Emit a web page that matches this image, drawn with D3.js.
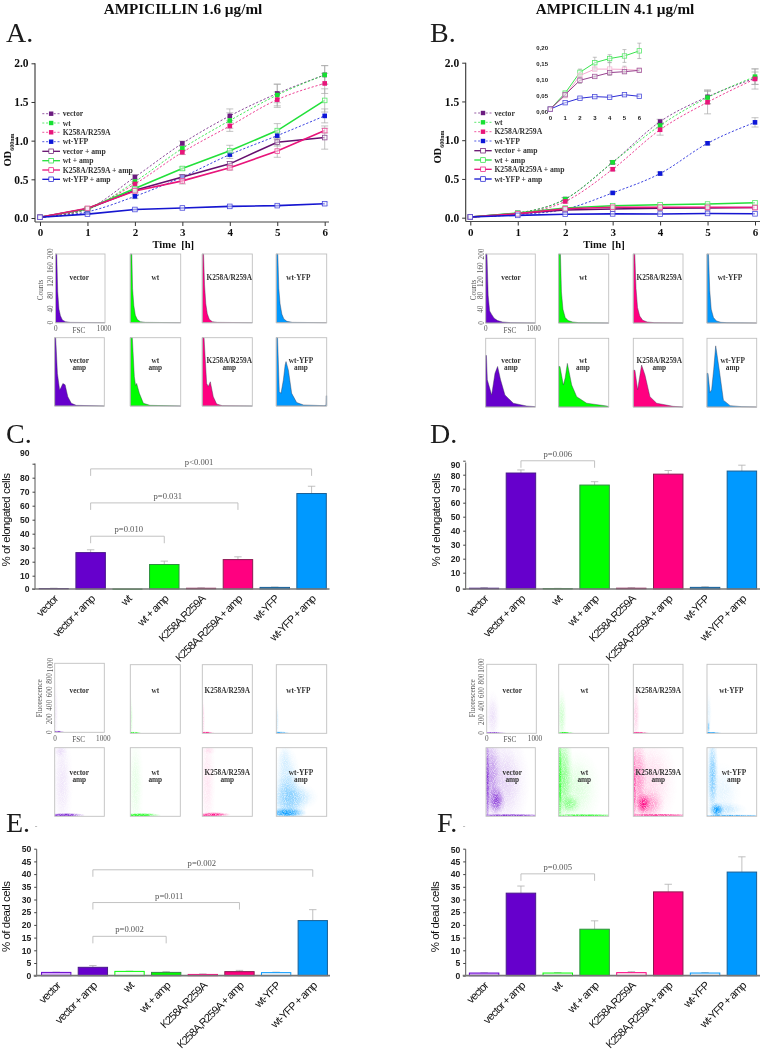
<!DOCTYPE html>
<html><head><meta charset="utf-8">
<script src="https://cdn.jsdelivr.net/npm/d3@7"></script>
<style>html,body{margin:0;padding:0;background:#fff}svg{display:block}</style>
</head><body><div id="c"></div>
<script>
// ---------- DATA ----------
const hours=[0,1,2,3,4,5,6];
const seriesNames=["vector","wt","K258A/R259A","wt-YFP","vector + amp","wt + amp","K258A/R259A + amp","wt-YFP + amp"];
// Panel A (OD600, ampicillin 1.6)
const aVector=[.01,.12,.53,.965,1.32,1.61,1.85];
const aWt=[.01,.11,.47,.90,1.26,1.59,1.85];
const aK=[.01,.12,.44,.85,1.19,1.53,1.74];
const aYfp=[.01,.08,.28,.53,.82,1.065,1.32];
const aVectorAmp=[.01,.12,.36,.53,.70,.98,1.04];
const aWtAmp=[.01,.12,.38,.64,.87,1.13,1.52];
const aKAmp=[.01,.125,.35,.48,.65,.865,1.13];
const aYfpAmp=[.01,.05,.11,.13,.15,.16,.185];
const aVectorErr=[0,.01,.03,.03,.09,.12,.12];
const aWtErr=[0,.01,.03,.03,.1,.14,.12];
const aKErr=[0,.01,.03,.03,.07,.1,.13];
const aYfpErr=[0,.01,.03,.03,.05,.05,.09];
const aVectorAmpErr=[0,.01,.02,.03,.03,.05,.15];
const aWtAmpErr=[0,.01,.02,.02,.07,.09,.15];
const aKAmpErr=[0,.01,.02,.04,.03,.08,.03];
const aYfpAmpErr=[0,.01,.01,.01,.01,.01,.02];
// Panel B (OD600, ampicillin 4.1)
const bVector=[.01,.06,.24,.715,1.24,1.56,1.80];
const bWt=[.01,.06,.24,.715,1.19,1.55,1.82];
const bK=[.01,.05,.21,.625,1.135,1.49,1.79];
const bYfp=[.01,.04,.11,.32,.57,.96,1.23];
const bVectorAmp=[.01,.055,.10,.112,.124,.127,.131];
const bWtAmp=[.01,.06,.125,.155,.168,.176,.192];
const bKAmp=[.01,.052,.115,.135,.135,.134,.131];
const bYfpAmp=[.01,.03,.044,.049,.047,.055,.05];
const bVectorErr=[0,.01,.02,.02,.03,.09,.08];
const bWtErr=[0,.01,.02,.02,.03,.08,.1];
const bKErr=[0,.01,.02,.02,.07,.15,.13];
const bYfpErr=[0,.01,.01,.01,.02,.02,.06];
const bVectorAmpErr=[0,.004,.01,.004,.005,.005,.004];
const bWtAmpErr=[0,.004,.01,.017,.012,.02,.024];
const bKAmpErr=[0,.004,.004,.004,.02,.01,.004];
const bYfpAmpErr=[0,.002,.002,.002,.002,.002,.002];
const odTicks=[0,.5,1,1.5,2];
const insetTicks=[0,.05,.10,.15,.20];
// Bars
const barCats=["vector","vector + amp","wt","wt + amp","K258A,R259A","K258A,R259A + amp","wt-YFP","wt-YFP + amp"];
const cVals=[.5,26.5,.1,18,.7,21.5,1.2,68.7];
const cErrs=[.1,2,0,2.4,.2,2,.3,5.2];
const dVals=[.6,81.2,.3,72.6,.6,80.4,1.0,82.6];
const dErrs=[.3,2.2,.1,2.4,.2,2.6,.4,4.2];
const eVals=[1.3,3.3,1.7,1.3,.5,1.6,1.2,21.7];
const eErrs=[.1,.7,.1,.3,.2,.5,.2,4.3];
const fVals=[1.05,32.5,1.05,18.3,1.2,33,1.05,40.8];
const fErrs=[.1,2.8,.2,3.3,.4,3,.2,6];
const elongTicks=[0,10,20,30,40,50,60,70,80,90];
const deadTicks=[0,5,10,15,20,25,30,35,40,45,50];
// FSC histograms: [FSC, counts]
const haVector=[[0,200],[25,200],[45,90],[70,40],[100,20],[140,8],[200,3],[300,1],[1000,0]];
const haWt=[[0,200],[30,200],[45,100],[70,50],[100,22],[140,9],[200,3],[300,1],[1000,0]];
const haK=[[0,200],[25,200],[45,110],[70,55],[100,26],[140,10],[200,3],[300,1],[1000,0]];
const haYfp=[[0,200],[30,200],[50,100],[75,55],[110,25],[150,11],[210,4],[320,1],[1000,0]];
const haVectorAmp=[[0,200],[20,200],[55,95],[100,47],[130,55],[165,66],[210,62],[265,27],[335,8],[435,2],[1000,0]];
const haWtAmp=[[0,200],[40,200],[80,86],[105,60],[126,66],[180,37],[260,8],[390,2],[1000,0]];
const haKAmp=[[0,200],[35,200],[87,66],[120,57],[160,71],[220,27],[287,6],[400,1],[1000,0]];
const haYfpAmp=[[0,200],[25,200],[60,42],[93,37],[140,76],[175,120],[193,130],[240,105],[305,37],[405,10],[540,3],[950,1],[985,2],[990,30],[1000,30]];
const hbVector=[[0,200],[25,200],[50,80],[80,35],[120,25],[170,14],[240,7],[340,3],[500,1],[1000,0]];
const hbWt=[[0,200],[35,200],[55,90],[85,40],[130,16],[190,7],[280,3],[400,1],[1000,0]];
const hbK=[[0,200],[30,200],[55,100],[85,45],[130,20],[190,8],[280,3],[420,1],[1000,0]];
const hbYfp=[[0,200],[30,200],[55,95],[85,40],[130,16],[190,6],[280,2],[400,1],[1000,0]];
const hbVectorAmp=[[0,150],[15,150],[33,79],[120,35],[187,98],[240,118],[300,79],[388,35],[557,11],[825,3],[1000,1]];
const hbWtAmp=[[0,118],[25,118],[93,64],[130,85],[173,127],[260,64],[360,30],[560,11],[960,3],[1000,1]];
const hbKAmp=[[0,107],[33,107],[87,50],[125,85],[167,122],[235,93],[335,30],[470,11],[800,2],[1000,0]];
const hbYfpAmp=[[0,98],[20,98],[60,42],[93,50],[135,110],[175,178],[248,107],[330,20],[465,4],[700,1],[1000,0]];
// Scatter density blobs: [FSC, fluorescence, spread FSC, spread fluor, density]
const saVector=[[60,8,80,12,1],[20,300,30,300,.07]];
const saWt=[[70,8,90,12,1],[20,200,20,200,.16]];
const saK=[[70,10,100,12,1],[20,200,20,200,.16]];
const saYfp=[[70,10,110,12,1],[20,180,20,160,.16]];
const saVectorAmp=[[230,18,230,20,1],[60,10,70,14,.8],[150,500,130,480,.1],[110,950,90,60,.1]];
const saWtAmp=[[220,18,240,20,1],[60,12,70,14,.7],[100,450,100,450,.1]];
const saKAmp=[[230,25,200,22,1],[60,12,60,14,.7],[100,500,100,480,.1],[130,960,90,40,.1]];
const saYfpAmp=[[200,50,240,50,1],[250,250,230,210,.42],[210,520,160,300,.22],[500,280,200,110,.16],[160,850,90,130,.1]];
const sbVector=[[130,8,160,9,.9],[120,250,90,220,.12]];
const sbWt=[[90,10,130,10,1],[60,250,60,240,.2]];
const sbK=[[100,10,130,10,.95],[50,270,50,250,.18]];
const sbYfp=[[70,10,130,9,1],[30,90,20,70,.5],[30,300,40,200,.1]];
const sbVectorAmp=[[210,230,110,130,.7],[500,15,540,12,1],[110,600,120,420,.34],[30,500,30,520,.7],[350,500,320,450,.18]];
const sbWtAmp=[[230,180,130,90,.4],[500,15,540,12,1],[90,600,120,450,.42],[25,500,25,520,.8],[350,400,300,340,.14]];
const sbKAmp=[[200,180,90,90,1],[300,180,200,140,.4],[500,18,540,12,1],[100,560,110,420,.38],[25,450,25,430,.55],[350,500,320,420,.15]];
const sbYfpAmp=[[200,90,90,70,1],[110,600,70,380,.5],[350,100,270,70,.22],[500,12,540,10,.8],[300,350,230,260,.1]];

// ---------- STYLE ----------
const W=760,H=1049;
const PURPLE="#6600cc",GREEN="#00ff00",PINK="#ff0080",BLUE="#0099ff";
const barStroke={[PURPLE]:"#4a1a8a",[GREEN]:"#2f8f3f",[PINK]:"#8c1850",[BLUE]:"#1a5f94"};
const lineColors=["#6c1a80","#18e030","#e8127a","#0a14d8","#66106e","#22e03a","#e8127a","#1414d0"];
const SERIF="'Liberation Serif','Times New Roman',serif",SANS="'Liberation Sans',Arial,sans-serif";

const svg=d3.select("#c").append("svg").attr("width",W).attr("height",H).attr("viewBox",`0 0 ${W} ${H}`);
const defs=svg.append("defs");
const stip=defs.append("filter").attr("id","stipple").attr("x",0).attr("y",0).attr("width",1).attr("height",1).attr("color-interpolation-filters","sRGB");
stip.append("feTurbulence").attr("type","fractalNoise").attr("baseFrequency",1.1).attr("numOctaves",1).attr("seed",3).attr("result","n");
stip.append("feColorMatrix").attr("in","n").attr("type","matrix").attr("values","0 0 0 0 0 0 0 0 0 0 0 0 0 0 0 1.8 0 0 0 -0.05").attr("result","m");
stip.append("feComposite").attr("in","SourceGraphic").attr("in2","m").attr("operator","in");
defs.append("filter").attr("id","softer").attr("x","-50%").attr("y","-50%").attr("width","200%").attr("height","200%").append("feGaussianBlur").attr("stdDeviation",.35);
const blobGrad={};
[PURPLE,GREEN,PINK,BLUE].forEach((c,i)=>{
  blobGrad[c]="bg"+i;
  const g=defs.append("radialGradient").attr("id","bg"+i);
  [[0,1],[.35,.72],[.7,.22],[1,0]].forEach(s=>g.append("stop").attr("offset",s[0]).attr("stop-color",c).attr("stop-opacity",s[1]));
});
const root=svg.append("g").attr("filter","url(#softer)");
root.append("rect").attr("width",W).attr("height",H).attr("fill","#fff");

function txt(g,x,y,s,o={}){
  const t=g.append("text").attr("x",x).attr("y",y).text(s)
   .attr("font-family",o.font||SERIF).attr("font-size",o.size||8).attr("fill",o.fill||"#222")
   .attr("text-anchor",o.anchor||"middle").attr("dominant-baseline",o.base||"auto");
  if(o.bold)t.attr("font-weight","bold");
  if(o.ls!=null)t.attr("letter-spacing",o.ls);
  if(o.rot!=null)t.attr("transform",`rotate(${o.rot} ${x} ${y})`);
  return t;
}

// Titles and panel letters
txt(root,183,13.6,"AMPICILLIN 1.6 µg/ml",{size:15.2,bold:true,fill:"#111"});
txt(root,615,13.6,"AMPICILLIN 4.1 µg/ml",{size:15.2,bold:true,fill:"#111"});
[["A.",6,41.5],["B.",430,41.5],["C.",6,442.5],["D.",430,442.5],["E.",6,831.5],["F.",437,831.5]].forEach(d=>
  txt(root,d[1],d[2],d[0],{size:28,anchor:"start",fill:"#1a1a1a"}));
[[36,829],[464,829]].forEach(d=>txt(root,d[0],d[1],"-",{size:8,fill:"#999"}));

// ---------- LINE PANELS ----------
function linePanel(p){
  const x=d3.scaleLinear().domain([0,6]).range(p.xr), y=d3.scaleLinear().domain([0,2]).range(p.yr);
  const g=root.append("g");
  const ya=g.append("g").attr("transform",`translate(${p.ax},0)`).call(d3.axisLeft(y).tickValues(odTicks).tickFormat(d3.format(".1f")).tickSize(3.5));
  const xa=g.append("g").attr("transform",`translate(0,${p.ay})`).call(d3.axisBottom(x).tickValues(hours).tickFormat(d3.format("d")).tickSize(4));
  [ya,xa].forEach(a=>{a.selectAll("text").attr("font-family",SERIF).attr("font-weight","bold").attr("font-size",11.5).attr("fill","#111");
    a.selectAll("line").attr("stroke","#333").attr("stroke-width",1);a.select(".domain").remove();});
  xa.selectAll("text").attr("font-size",11).attr("dy","0.68em");
  g.append("line").attr("x1",p.ax).attr("x2",p.ax).attr("y1",p.yr[1]).attr("y2",p.ay).attr("stroke","#333").attr("stroke-width",1.1);
  g.append("line").attr("x1",p.ax).attr("x2",p.xEnd).attr("y1",p.ay).attr("y2",p.ay).attr("stroke","#444").attr("stroke-width",1.2);
  txt(g,p.timeX,247.5,"Time\u00a0\u00a0[h]",{size:10.6,bold:true,fill:"#111"});
  const od=txt(g,p.odX,p.odY,"OD",{size:10.5,bold:true,rot:-90,fill:"#111"});
  od.append("tspan").attr("dy",3).attr("font-size",6).text("600nm");
  drawSeries(g,x,y,p.vals,p.errs,{dashW:.8,solidW:1.6,size:4.6,hollow:4.6,cap:3.5});
  seriesNames.forEach((n,i)=>{
    const ly=p.legY[i],c=lineColors[i],amp=i>=4;
    g.append("line").attr("x1",p.legX[0]).attr("x2",p.legX[1]).attr("y1",ly).attr("y2",ly).attr("stroke",c)
      .attr("stroke-width",amp?1.3:.7).attr("stroke-dasharray",amp?null:"2,1.8");
    const m=(p.legX[0]+p.legX[1])/2;
    if(amp)g.append("rect").attr("x",m-2.3).attr("y",ly-2.3).attr("width",4.6).attr("height",4.6).attr("fill","#fff").attr("stroke",c).attr("stroke-width",.7);
    else g.append("rect").attr("x",m-2.2).attr("y",ly-2.2).attr("width",4.4).attr("height",4.4).attr("fill",c);
    txt(g,p.legX[1]+2.7,ly+2.5,n,{size:7.7,bold:true,anchor:"start",fill:"#333"});
  });
}
function drawSeries(g,x,y,vals,errs,o){
  const pts=(v)=>hours.map((h,i)=>[h,v[i]]);
  const lineD=d3.line().x(d=>x(d[0])).y(d=>y(d[1]));
  const dashD=d3.line().x(d=>x(d[0])).y(d=>y(d[1])).curve(d3.curveMonotoneX);
  const colorOf=si=>(o.colors&&o.colors[si])||lineColors[si];
  vals.forEach((v,si)=>{
    if(!v)return;
    const eg=g.append("g").attr("stroke",si===7?"#b8c4f0":"#a8a8a8").attr("stroke-width",.7);
    hours.forEach((h,i)=>{const e=errs[si][i];if(e<=0)return;
      const px=x(h);[-1,1].forEach(s=>eg.append("line").attr("x1",px-o.cap).attr("x2",px+o.cap).attr("y1",y(v[i]+s*e)).attr("y2",y(v[i]+s*e)));
      eg.append("line").attr("x1",px).attr("x2",px).attr("y1",y(v[i]-e)).attr("y2",y(v[i]+e));});
  });
  vals.forEach((v,si)=>{
    if(!v)return;
    const amp=si>=4;
    g.append("path").attr("d",(amp?lineD:dashD)(pts(v))).attr("fill","none").attr("stroke",colorOf(si))
      .attr("stroke-width",amp?o.solidW:o.dashW).attr("stroke-dasharray",amp?null:"2.2,1.8");
  });
  vals.forEach((v,si)=>{
    if(!v)return;
    const c=colorOf(si),amp=si>=4,sz=amp?o.hollow:o.size;
    g.selectAll(null).data(pts(v)).enter().append("rect")
      .attr("x",d=>x(d[0])-sz/2).attr("y",d=>y(d[1])-sz/2).attr("width",sz).attr("height",sz)
      .attr("fill",amp?"rgba(255,255,255,.55)":c).attr("stroke",amp?d3.interpolateRgb(c,"#fff")(.25):"none").attr("stroke-width",amp?.8:0);
  });
}
linePanel({xr:[40,324.7],yr:[218,63.3],ax:35,ay:222,xEnd:329,timeX:173.3,odX:11,odY:150,
  vals:[aVector,aWt,aK,aYfp,aVectorAmp,aWtAmp,aKAmp,aYfpAmp],
  errs:[aVectorErr,aWtErr,aKErr,aYfpErr,aVectorAmpErr,aWtAmpErr,aKAmpErr,aYfpAmpErr],
  legX:[42.3,60],legY:[113.7,123,132.3,141.7,151.3,160.7,170,179.3]});
linePanel({xr:[470.3,755],yr:[217.7,62.7],ax:465.7,ay:221.5,xEnd:760,timeX:604,odX:440.5,odY:147,
  vals:[bVector,bWt,bK,bYfp,bVectorAmp,bWtAmp,bKAmp,bYfpAmp],
  errs:[bVectorErr,bWtErr,bKErr,bYfpErr,bVectorAmpErr.map(()=>0),bWtAmpErr.map(()=>0),bKAmpErr.map(()=>0),bYfpAmpErr.map(()=>0)],
  legX:[474.3,491.7],legY:[113,122.3,131.7,141,150.7,160,169.3,179]});
// inset
(function(){
  const g=root.append("g");
  const x=d3.scaleLinear().domain([0,6]).range([550.3,639.3]), y=d3.scaleLinear().domain([0,.2]).range([112.3,48.3]);
  insetTicks.forEach(t=>txt(g,548,y(t)+2,d3.format(".2f")(t).replace(".",","),{size:6,bold:true,anchor:"end",font:SANS,fill:"#222"}));
  hours.forEach(h=>txt(g,x(h),119.5,h,{size:6,bold:true,font:SANS,fill:"#222"}));
  drawSeries(g,x,y,[null,null,null,null,null,bWtAmp,bKAmp,bYfpAmp],
    [0,0,0,0,0,bWtAmpErr,bKAmpErr,bYfpAmpErr],{solidW:.9,hollow:4.4,cap:2,colors:{6:"#f3a0c8"}});
  drawSeries(g,x,y,[null,null,null,null,bVectorAmp,null,null,null],
    [0,0,0,0,bVectorAmpErr,0,0,0],{solidW:.9,hollow:4.4,cap:2,colors:{4:"#8a2a80"}});
})();

// ---------- HISTOGRAMS ----------
const hx=d3.scaleLinear().domain([0,1000]), hy=d3.scaleLinear().domain([0,200]);
function hist(box,data,color,lab,lx,withAmp){
  const x=hx.copy().range([box[0],box[1]]), y=hy.copy().range([box[3],box[2]]);
  const g=root.append("g");
  const area=d3.area().x(d=>x(d[0])).y0(box[3]).y1(d=>y(d[1]));
  g.append("path").attr("d",area(data)).attr("fill",color).attr("stroke","#33334a").attr("stroke-width",.4);
  g.append("rect").attr("x",box[0]).attr("y",box[2]).attr("width",box[1]-box[0]).attr("height",box[3]-box[2]).attr("fill","none").attr("stroke","#c0c0c0").attr("stroke-width",.9);
  labels(g,lab,lx,withAmp?360:277.7,withAmp);
}
function labels(g,lab,lx,ly,withAmp){
  txt(g,lx,ly+2.5,lab,{size:7.3,bold:true,fill:"#333"});
  if(withAmp)txt(g,lx,ly+9.8,"amp",{size:7.3,bold:true,fill:"#333"});
}
const aCols=[[55.5,105],[130.3,180.7],[202.3,252.3],[276.3,326.7]], aCols2=[[54.7,104.3],[130.3,180.7],[202.3,252.3],[276.3,326.7]];
const bCols=[[485.7,535.3],[558.7,608.7],[633.3,683],[707,756.7]];
const labs=["vector","wt","K258A/R259A","wt-YFP"], cols=[PURPLE,GREEN,PINK,BLUE];
const hA1=[haVector,haWt,haK,haYfp],hA2=[haVectorAmp,haWtAmp,haKAmp,haYfpAmp],hB1=[hbVector,hbWt,hbK,hbYfp],hB2=[hbVectorAmp,hbWtAmp,hbKAmp,hbYfpAmp];
const hLxA1=[79.3,155.3,229.3,298.3],hLxA2=[79.3,155.3,229.3,301],hLxB1=[511,583,659.3,730],hLxB2=[511,583,659.3,732.7];
labs.forEach((l,i)=>{
  hist([aCols[i][0],aCols[i][1],254,322.7],hA1[i],cols[i],l,hLxA1[i],false);
  hist([aCols2[i][0],aCols2[i][1],337.7,406],hA2[i],cols[i],l,hLxA2[i],true);
  hist([bCols[i][0],bCols[i][1],254,323],hB1[i],cols[i],l,hLxB1[i],false);
  hist([bCols[i][0],bCols[i][1],338.3,407],hB2[i],cols[i],l,hLxB2[i],true);
});
function flowAxes(o){
  const g=root.append("g"),f={size:7.2,fill:"#555"};
  const y=d3.scaleLinear().domain(o.dom).range(o.yr);
  o.ticks.forEach(t=>txt(g,o.tx,y(t),t,{...f,rot:-90}));
  txt(g,o.nameX,o.nameY,o.name,{...f,rot:-90});
  txt(g,o.z,o.by,"0",f);txt(g,o.k,o.by,"1000",f);txt(g,o.fscX,o.by+1.7,"FSC",f);
}
flowAxes({dom:[0,200],ticks:[0,40,80,120,160,200],yr:[322.7,253.8],tx:53.5,name:"Counts",nameX:42.5,nameY:290,z:55.7,k:104,fscX:79,by:331});
flowAxes({dom:[0,200],ticks:[0,40,80,120,160,200],yr:[323,254],tx:483.5,name:"Counts",nameX:475.5,nameY:290,z:485.7,k:533.7,fscX:510,by:331});
flowAxes({dom:[0,1000],ticks:[0,200,400,600,800,1000],yr:[732.3,665],tx:52.5,name:"Fluorescence",nameX:42.5,nameY:698.3,z:55,k:103.3,fscX:78.7,by:740.5});
flowAxes({dom:[0,1000],ticks:[0,200,400,600,800,1000],yr:[733,665.5],tx:484,name:"Fluorescence",nameX:475.5,nameY:698.3,z:486.7,k:535,fscX:510,by:740.5});

// ---------- SCATTERS ----------
let clipN=0;
function scatter(box,blobs,color,lab,lx,withAmp){
  const x=hx.copy().range([box[0],box[1]]), y=d3.scaleLinear().domain([0,1000]).range([box[3],box[2]]);
  const id="cl"+(clipN++);
  defs.append("clipPath").attr("id",id).append("rect").attr("x",box[0]).attr("y",box[2]).attr("width",box[1]-box[0]).attr("height",box[3]-box[2]);
  const g=root.append("g");
  const c=g.append("g").attr("clip-path",`url(#${id})`).append("g").attr("filter","url(#stipple)");
  c.selectAll("ellipse").data(blobs).enter().append("ellipse")
   .attr("cx",d=>x(d[0])).attr("cy",d=>y(d[1]))
   .attr("rx",d=>1.7*Math.abs(x(d[2])-x(0))).attr("ry",d=>1.7*Math.abs(y(d[3])-y(0)))
   .attr("fill",`url(#${blobGrad[color]})`).attr("opacity",d=>d[4]);
  g.append("rect").attr("x",box[0]).attr("y",box[2]).attr("width",box[1]-box[0]).attr("height",box[3]-box[2]).attr("fill","none").attr("stroke","#c0c0c0").attr("stroke-width",.9);
  labels(g,lab,lx,withAmp?772.3:690,withAmp);
}
const sA1=[saVector,saWt,saK,saYfp],sA2=[saVectorAmp,saWtAmp,saKAmp,saYfpAmp],sB1=[sbVector,sbWt,sbK,sbYfp],sB2=[sbVectorAmp,sbWtAmp,sbKAmp,sbYfpAmp];
const sLxA1=[79.3,155.3,227.3,298.3],sLxA2=[79.3,155.3,227.3,301],sLxB1=[512.3,584.3,658.3,731.3],sLxB2=[512.3,584.3,658.3,734];
const sColsA=[[54.7,104.3],[130.3,180.3],[202.3,252.3],[276.3,326.7]];
const sColsB=[[486.7,536.3],[558.7,608.7],[633.3,683],[707,756.7]],sColsB2=[[486,535.3],[558.7,608.7],[633.3,683],[707,756.7]];
labs.forEach((l,i)=>{
  scatter([sColsA[i][0],sColsA[i][1],i?664.7:663.3,i?733.3:732.3],sA1[i],cols[i],l,sLxA1[i],false);
  scatter([sColsA[i][0],sColsA[i][1],747.7,816.3],sA2[i],cols[i],l,sLxA2[i],true);
  scatter([sColsB[i][0],sColsB[i][1],664.3,733.3],sB1[i],cols[i],l,sLxB1[i],false);
  scatter([sColsB2[i][0],sColsB2[i][1],747.7,816.3],sB2[i],cols[i],l,sLxB2[i],true);
});

// ---------- BAR PANELS ----------
const barColors=[PURPLE,PURPLE,GREEN,GREEN,PINK,PINK,BLUE,BLUE];
const paleFill={[PURPLE]:"#d9a8ff",[GREEN]:"#f2fff2",[PINK]:"#ffe6f2",[BLUE]:"#f2f9ff"};
function barPanel(p){
  const g=root.append("g");
  const x=d3.scaleBand().domain(barCats).range(p.xr).paddingInner(.2).paddingOuter(.1);
  const y=d3.scaleLinear().domain(p.dom).range(p.rng);
  const base=y(0);
  const cw=x.bandwidth();
  barCats.forEach((c,i)=>{
    const v=p.vals[i],e=p.errs[i],cx=x(c)+cw/2;
    if(e<=0)return;
    g.append("line").attr("x1",cx).attr("x2",cx).attr("y1",y(v)).attr("y2",y(v+e)).attr("stroke","#b0b0b0").attr("stroke-width",.8);
    g.append("line").attr("x1",cx-3.7).attr("x2",cx+3.7).attr("y1",y(v+e)).attr("y2",y(v+e)).attr("stroke","#b0b0b0").attr("stroke-width",.8);
  });
  g.selectAll("rect.bar").data(barCats).enter().append("rect").attr("class","bar")
    .attr("x",c=>x(c)).attr("width",cw)
    .attr("y",(c,i)=>y(p.vals[i])).attr("height",(c,i)=>Math.max(.6,base-y(p.vals[i])))
    .attr("fill",(c,i)=>(p.pale&&i%2===0)?paleFill[barColors[i]]:barColors[i])
    .attr("stroke",(c,i)=>(p.pale&&i%2===0)?barColors[i]:barStroke[barColors[i]])
    .attr("stroke-width",(c,i)=>(p.vals[i]<1.0&&!p.pale)?.6:1);
  const ya=g.append("g").attr("transform",`translate(${p.ax},0)`).call(d3.axisLeft(y).tickValues(p.ticks).tickSize(2.5).tickSizeOuter(0));
  ya.select(".domain").remove();
  ya.selectAll("line").attr("stroke","#444");
  ya.selectAll("text").attr("font-family",SANS).attr("font-weight","bold").attr("font-size",8.6).attr("fill","#222")
    .attr("transform",t=>`translate(0,${(p.shift&&p.shift[t])||0})`);
  g.append("line").attr("x1",p.ax).attr("x2",p.ax).attr("y1",p.axTop).attr("y2",base).attr("stroke","#444").attr("stroke-width",.9);
  g.append("line").attr("x1",p.ax-3).attr("x2",p.xEnd).attr("y1",base).attr("y2",base).attr("stroke","#777").attr("stroke-width",p.pale?1.7:1.3);
  barCats.forEach(c=>{
    const cx=x(c)+cw/2+2, cy=base+8;
    g.append("text").attr("transform",`translate(${cx},${cy}) rotate(-45)`).attr("text-anchor","end")
      .attr("font-family",SANS).attr("font-size",11).attr("letter-spacing",-.85).attr("fill","#111").attr("dy",".35em").text(c);
  });
  txt(g,p.titleX,p.titleY,p.title,{font:SANS,size:11.5,rot:-90,fill:"#111",base:"middle",ls:-.5});
  p.brackets.forEach(b=>{
    const x1=x(barCats[b.from])+cw/2, x2=x(barCats[b.to])+cw/2, top=y(b.level);
    g.append("path").attr("d",d3.line()([[x1,top+7],[x1,top],[x2,top],[x2,top+7]])).attr("fill","none").attr("stroke","#bbb").attr("stroke-width",.9);
    txt(g,(x1+x2)/2+(b.dx||0),top-4,b.label,{size:8.6,fill:"#555"});
  });
}
barPanel({xr:[35.4,330],dom:[0,10,90],rng:[589,575.7,463.7],ax:35,axTop:463.5,xEnd:329.5,vals:cVals,errs:cErrs,ticks:elongTicks,
  shift:{90:-10.5,10:0,0:0},title:"% of elongated cells",titleX:7,titleY:520,
  brackets:[{from:1,to:3,level:38.2,label:"p=0.010",dx:1.3},{from:1,to:5,level:62,label:"p=0.031",dx:3.5},{from:1,to:7,level:86.3,label:"p<0.001",dx:-2}]});
barPanel({xr:[465.7,760.3],dom:[0,10,90],rng:[589,572.7,460.7],ax:465.7,axTop:462.5,xEnd:760,vals:dVals,errs:dErrs,ticks:elongTicks,
  shift:{90:4.5,80:1.5,0:0},title:"% of elongated cells",titleX:437,titleY:520,
  brackets:[{from:1,to:3,level:89.95,label:"p=0.006",dx:0}]});
barPanel({xr:[37.9,331.1],dom:[0,50],rng:[975.7,848.7],ax:36.7,axTop:849.3,xEnd:330,vals:eVals,errs:eErrs,ticks:deadTicks,pale:true,
  title:"% of dead cells",titleX:7,titleY:916.7,
  brackets:[{from:1,to:3,level:15.5,label:"p=0.002",dx:0},{from:1,to:5,level:28.8,label:"p=0.011",dx:3},{from:1,to:7,level:41.7,label:"p=0.002",dx:-1}]});
barPanel({xr:[465.7,760.3],dom:[0,50],rng:[975.7,848.7],ax:465.7,axTop:849.3,xEnd:760,vals:fVals,errs:fErrs,ticks:deadTicks,pale:true,
  shift:{50:1.5},title:"% of dead cells",titleX:436,titleY:917,
  brackets:[{from:1,to:3,level:40.1,label:"p=0.005",dx:0}]});
</script></body></html>
